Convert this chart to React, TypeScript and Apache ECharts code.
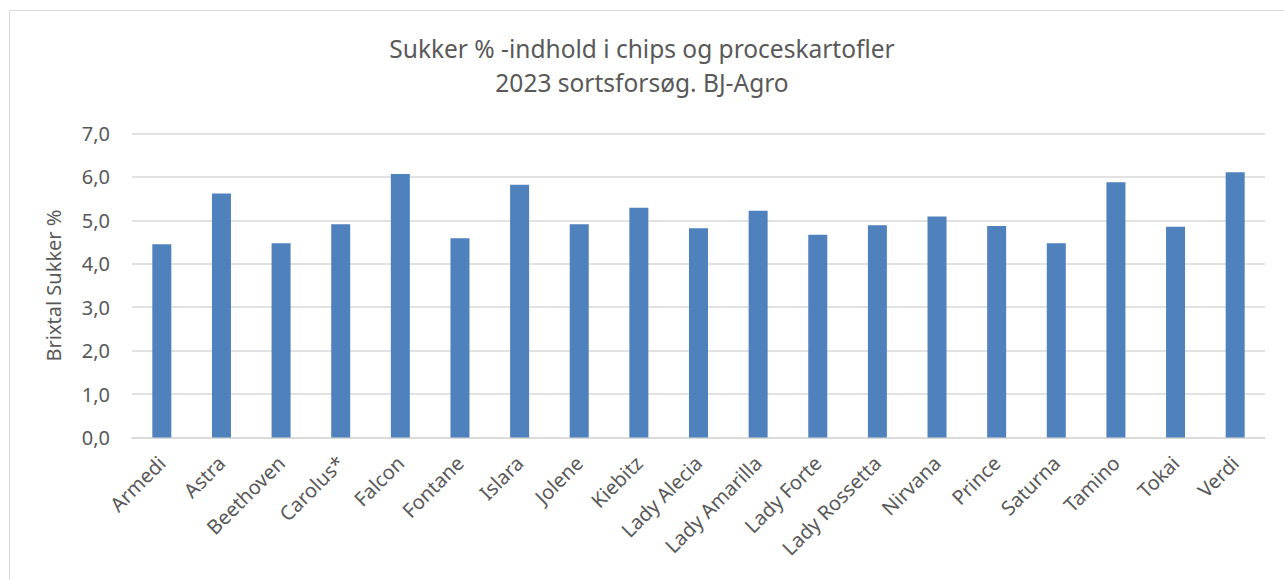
import React, { useEffect, useRef } from "react";
import * as echarts from "echarts";

const categories = [
  "Armedi", "Astra", "Beethoven", "Carolus*", "Falcon", "Fontane", "Islara",
  "Jolene", "Kiebitz", "Lady Alecia", "Lady Amarilla", "Lady Forte",
  "Lady Rossetta", "Nirvana", "Prince", "Saturna", "Tamino", "Tokai", "Verdi",
];
const sugarValues = [
  4.45, 5.62, 4.47, 4.91, 6.07, 4.59, 5.82, 4.91, 5.29, 4.82, 5.22, 4.67,
  4.89, 5.09, 4.87, 4.47, 5.88, 4.85, 6.11,
];
const titleLines = ["Sukker % -indhold i chips og proceskartofler", "2023 sortsforsøg. BJ-Agro"];
const yAxisName = "Brixtal Sukker %";

const FONT = "'Noto Sans', sans-serif";
const TEXT = "#595959";

export default function App() {
  const ref = useRef<HTMLDivElement>(null);
  useEffect(() => {
    if (!ref.current) return;
    const chart = echarts.init(ref.current, null, { renderer: "svg" });
    chart.setOption({
      animation: false,
      backgroundColor: "#ffffff",
      title: {
        text: titleLines.join("\n"),
        left: "center",
        top: 31,
        padding: 0,
        textStyle: {
          fontFamily: FONT,
          fontSize: 24.5,
          fontWeight: "normal",
          color: TEXT,
          lineHeight: 34,
        },
      },
      graphic: [
        {
          type: "rect",
          shape: { x: 9.5, y: 10.5, width: 1400, height: 1000 },
          style: { fill: "none", stroke: "#d9d9d9", lineWidth: 1 },
          silent: true,
        },
      ],
      grid: { left: 132, right: 19, top: 133.5, bottom: 142.5, containLabel: false },
      xAxis: {
        type: "category",
        data: categories,
        axisLine: { show: true, lineStyle: { color: "#d9d9d9", width: 1.5 } },
        axisTick: { show: false },
        axisLabel: {
          rotate: 45,
          interval: 0,
          margin: 22,
          fontFamily: FONT,
          fontSize: 20,
          color: TEXT,
        },
      },
      yAxis: {
        type: "value",
        min: 0,
        max: 7,
        interval: 1,
        name: yAxisName,
        nameLocation: "middle",
        nameGap: 69,
        nameTextStyle: { fontFamily: FONT, fontSize: 20, color: TEXT },
        axisLine: { show: false },
        axisTick: { show: false },
        splitLine: { lineStyle: { color: "#d9d9d9", width: 1.5 } },
        axisLabel: {
          margin: 22,
          fontFamily: FONT,
          fontSize: 20,
          color: TEXT,
          formatter: (v: number) => v.toFixed(1).replace(".", ","),
        },
      },
      series: [
        {
          type: "bar",
          data: sugarValues,
          barWidth: 19,
          itemStyle: { color: "#4f81bd" },
        },
      ],
    });
    return () => chart.dispose();
  }, []);
  return (
    <div
      ref={ref}
      style={{ position: "absolute", left: 0, top: 0, width: 1284, height: 580 }}
    />
  );
}
